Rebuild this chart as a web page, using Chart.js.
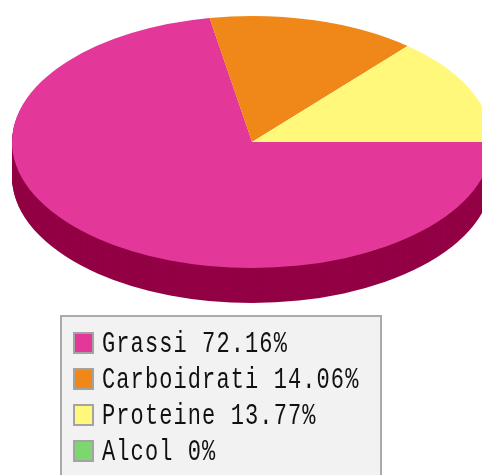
<!DOCTYPE html>
<html>
<head>
<meta charset="utf-8">
<script src="https://cdn.jsdelivr.net/npm/chart.js@4"></script>
<style>
    html, body { margin: 0; padding: 0; background: #fff; overflow: hidden; }
    #wrap { position: relative; width: 482px; height: 475px; overflow: hidden; }
    #legend {
        position: absolute; left: 60px; top: 315px; width: 318px; height: 170px;
        background: #f2f2f2; border: 2px solid #aaa;
        font-family: "Liberation Mono", monospace; font-size: 22px; letter-spacing: 1.1px; color: #111;
        filter: blur(0.4px);
    }
    .row { position: absolute; left: 11px; height: 24px; line-height: 24px; white-space: pre; }
    .swatch {
        display: inline-block; box-sizing: border-box; width: 21px; height: 22px;
        border: 2px solid #a3a3a3; vertical-align: top; margin-right: 8px;
    }
    .text { display: inline-block; transform: translateY(1.5px) scaleY(1.3); transform-origin: 50% 55%; }
</style>
</head>
<body>
<div id="wrap">
    <canvas id="pie" width="482" height="475"></canvas>
    <div id="legend"></div>
</div>
<script>
const labels = ["Grassi", "Carboidrati", "Proteine", "Alcol"];
const values = [72.16, 14.06, 13.77, 0];
const colors = ["#e33899", "#ef8819", "#fff87a", "#7ed670"];
const sideColor = "#930045";

// where the flattened pie goes on the page
const centerX = 252;
const centerY = 142;
const radius = 240;
const squash = 126 / 240;
const depth = 35;

function flatten(ctx, el, down) {
    ctx.translate(centerX, centerY + down);
    ctx.scale(1, squash);
    ctx.translate(-el.x, -el.y);
}

// Chart.js has no 3d pie, so squash the arcs and stack the big slice for the side
const pie3d = {
    id: "pie3d",
    beforeDatasetsDraw(chart) {
        const ctx = chart.ctx;
        const el = chart.getDatasetMeta(0).data[0];
        const opts = el.options;
        el.options = Object.assign({}, opts, { backgroundColor: sideColor });
        for (let i = depth; i > 0; i--) {
            ctx.save();
            flatten(ctx, el, i);
            el.draw(ctx);
            ctx.restore();
        }
        el.options = opts;
        ctx.save();
        flatten(ctx, el, 0);
    },
    afterDatasetsDraw(chart) {
        chart.ctx.restore();
    }
};

new Chart(document.getElementById("pie"), {
    type: "pie",
    data: {
        labels: labels,
        datasets: [{
            data: values,
            backgroundColor: colors,
            borderWidth: 0
        }]
    },
    options: {
        responsive: false,
        animation: false,
        rotation: 90,
        radius: radius,
        plugins: {
            legend: { display: false },
            tooltip: { enabled: false }
        }
    },
    plugins: [pie3d]
});

// legend is a plain div because the box runs off the bottom of the page
const legend = document.getElementById("legend");
labels.forEach((label, i) => {
    const row = document.createElement("div");
    row.className = "row";
    row.style.top = (15 + i * 36) + "px";
    const swatch = document.createElement("span");
    swatch.className = "swatch";
    swatch.style.background = colors[i];
    row.appendChild(swatch);
    const text = document.createElement("span");
    text.className = "text";
    text.textContent = label + " " + values[i] + "%";
    row.appendChild(text);
    legend.appendChild(row);
});
</script>
</body>
</html>
